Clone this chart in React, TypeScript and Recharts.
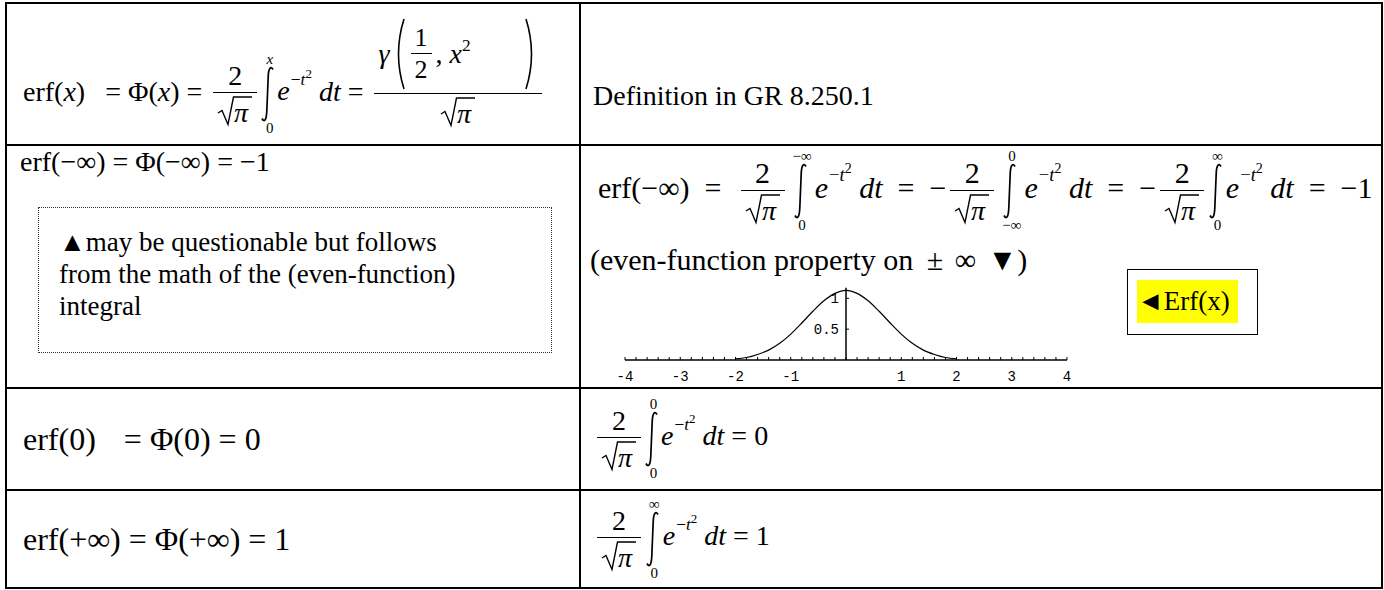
import React from "react";
import { LineChart, Line, XAxis, YAxis, ReferenceLine, ReferenceDot } from "recharts";

// values (bell curve under the erf(-inf) row)
const curveX = [-2, -1.8, -1.6, -1.4, -1.2, -1, -0.8, -0.6, -0.4, -0.2, 0, 0.2, 0.4, 0.6, 0.8, 1, 1.2, 1.4, 1.6, 1.8, 2];
const curveY = [0.02, 0.04, 0.09, 0.16, 0.27, 0.42, 0.6, 0.79, 0.96, 1.08, 1.13, 1.08, 0.96, 0.79, 0.6, 0.42, 0.27, 0.16, 0.09, 0.04, 0.02];
const xLabels = [-4, -3, -2, -1, 1, 2, 3, 4];
const yLabels = [0.5, 1];

const minorTicks = Array.from({ length: 41 }, (_, i) => Math.round((-4 + i * 0.2) * 10) / 10);

const SERIF = '"Liberation Serif", "Times New Roman", serif';
const MONO = '"Liberation Mono", "DejaVu Sans Mono", monospace';
const MATH = 28;
const TXT = 28;

const rowLines = [2, 144, 387, 489, 587];
const colLines = [5, 579, 1381];

function AxisTick(props: any) {
  const { x, y, payload } = props;
  const v = Math.round(payload.value * 10) / 10;
  const show = xLabels.includes(v);
  return (
    <g>
      <line x1={x} x2={x} y1={y - 3} y2={y} stroke="#000" strokeWidth={1} />
      {show && (
        <text x={x} y={y + 21} textAnchor="middle" fontSize={14} fontFamily={MONO} fill="#000">
          {v}
        </text>
      )}
    </g>
  );
}

function YTick(props: any) {
  const { cx, cy, text } = props;
  return (
    <g>
      <line x1={cx} x2={cx + 3} y1={cy} y2={cy} stroke="#000" />
      <text x={cx - 7} y={cy + 5} textAnchor="end" fontSize={14} fontFamily={MONO} fill="#000">
        {text}
      </text>
    </g>
  );
}

function ErfPlot() {
  const data = curveX.map((x, i) => ({ x, y: curveY[i] }));
  return (
    <LineChart width={470} height={102} data={data} margin={{ top: 4, right: 14, bottom: 0, left: 14 }}>
      <XAxis
        dataKey="x"
        type="number"
        domain={[-4, 4]}
        ticks={minorTicks}
        interval={0}
        tick={<AxisTick />}
        tickLine={false}
        tickSize={0}
        tickMargin={0}
        height={24}
        axisLine={{ stroke: "#000", strokeWidth: 1.5 }}
        allowDataOverflow
      />
      <YAxis hide type="number" domain={[0, 1.2]} />
      <ReferenceLine segment={[{ x: 0, y: 0 }, { x: 0, y: 1.17 }]} stroke="#000" strokeWidth={1.5} />
      {yLabels.map((v) => (
        <ReferenceDot key={v} x={0} y={v} r={0} shape={(p: any) => <YTick {...p} text={String(v)} />} />
      ))}
      <Line dataKey="y" type="monotone" stroke="#000" strokeWidth={1.2} dot={false} isAnimationActive={false} />
    </LineChart>
  );
}

const I = ({ children }: any) => <span style={{ fontStyle: "italic" }}>{children}</span>;
const Eq = ({ m = 7, children = "=" }: any) => <span style={{ margin: `0 ${m}px` }}>{children}</span>;

function SqrtPi() {
  return (
    <svg width={36} height={32} style={{ verticalAlign: "bottom", overflow: "visible" }}>
      <path d="M1 18 L5 15.5 L11 29.5 L16.5 2 L35 2" fill="none" stroke="#000" strokeWidth={1.4} />
      <text x={17} y={27} fontSize={28} fontStyle="italic" fontFamily={SERIF} fill="#000">
        π
      </text>
    </svg>
  );
}

function Frac({ num, den, extra = 0, fs }: any) {
  return (
    <span
      style={{
        display: "inline-flex",
        flexDirection: "column",
        alignItems: "center",
        verticalAlign: "middle",
        lineHeight: 1.05,
        margin: `0 4px ${extra}px`,
        fontSize: fs,
      }}
    >
      <span style={{ padding: "0 4px" }}>{num}</span>
      <span style={{ alignSelf: "stretch", borderTop: "1.5px solid #000", margin: "2px 0" }} />
      <span style={{ padding: "0 4px" }}>{den}</span>
    </span>
  );
}

function Int({ up, lo }: any) {
  const lim = { height: 13, opacity: 0.99, lineHeight: "13px", paddingLeft: 4 };
  return (
    <span
      style={{
        display: "inline-flex",
        flexDirection: "column",
        alignItems: "center",
        verticalAlign: "middle",
        lineHeight: 1,
        margin: "0 3px 0 0",
        fontSize: 15,
      }}
    >
      <span style={lim}>{up}</span>
      <svg width={13} height={56} viewBox="0 0 13 56">
        <path
          d="M12 3.5 Q10.5 0.5 8.8 2.5 Q7.4 4.5 7.2 11 L5.8 45 Q5.5 51.5 4.3 53.5 Q2.8 56 1 52.5"
          fill="none"
          stroke="#000"
          strokeWidth={1.7}
        />
      </svg>
      <span style={lim}>{lo}</span>
    </span>
  );
}

function Gauss() {
  return (
    <span>
      <I>e</I>
      <span style={{ fontSize: "0.62em", position: "relative", top: "-0.9em", marginLeft: 1 }}>
        −<I>t</I>
        <span style={{ fontSize: "0.75em", position: "relative", top: "-0.55em" }}>2</span>
      </span>
    </span>
  );
}

function Paren({ right }: any) {
  return (
    <svg width={15} height={74} viewBox="0 0 15 74" style={{ display: "block" }}>
      <path d={right ? "M3 2 Q14 37 3 72" : "M12 2 Q1 37 12 72"} fill="none" stroke="#000" strokeWidth={1.6} />
    </svg>
  );
}

function Gamma() {
  return (
    <span style={{ display: "inline-flex", alignItems: "center" }}>
      <I>γ</I>
      <span style={{ width: 2 }} />
      <Paren />
      <Frac num="1" den="2" fs={26} />
      <span>
        , <I>x</I>
        <span style={{ fontSize: "0.62em", position: "relative", top: "-0.7em" }}>2</span>
      </span>
      <span style={{ width: 52 }} />
      <Paren right />
    </span>
  );
}

const TwoOverRootPi = () => <Frac num="2" den={<SqrtPi />} />;

function Box({ left, top, h, fs = MATH, children }: any) {
  return (
    <div
      style={{
        position: "absolute",
        left,
        top,
        height: h,
        display: "flex",
        alignItems: "center",
        whiteSpace: "nowrap",
        fontSize: fs,
      }}
    >
      <div style={{ lineHeight: "normal" }}>{children}</div>
    </div>
  );
}

const Gap = ({ w = 30 }: any) => <span style={{ display: "inline-block", width: w }} />;

export default function App() {
  return (
    <div
      style={{
        position: "absolute",
        left: 0,
        top: 0,
        width: 1384,
        height: 590,
        background: "#fff",
        overflow: "hidden",
        fontFamily: SERIF,
        color: "#000",
      }}
    >
      {rowLines.map((y) => (
        <div key={"h" + y} style={{ position: "absolute", left: 5, top: y, width: 1378, height: 2, background: "#000" }} />
      ))}
      {colLines.map((x) => (
        <div key={"v" + x} style={{ position: "absolute", left: x, top: 2, width: 2, height: 587, background: "#000" }} />
      ))}

      {/* row 1 */}
      <Box left={23} top={24} h={140}>
        erf(<I>x</I>)<Gap w={20} />= Φ(<I>x</I>) = <TwoOverRootPi />
        <Int up={<I>x</I>} lo="0" />
        <Gauss /> <I>dt</I> = <Frac num={<Gamma />} den={<SqrtPi />} extra={44} />
      </Box>
      <Box left={593} top={24} h={144} fs={TXT}>
        Definition in GR 8.250.1
      </Box>

      {/* row 2 */}
      <div style={{ position: "absolute", left: 20, top: 146, fontSize: 28, whiteSpace: "nowrap" }}>
        erf(−∞) = Φ(−∞) = −1
      </div>
      <div
        style={{
          position: "absolute",
          left: 38,
          top: 207,
          width: 514,
          height: 146,
          boxSizing: "border-box",
          border: "1.5px dotted #333",
          padding: "18px 0 0 20px",
          fontSize: 27,
          lineHeight: "32px",
          whiteSpace: "nowrap",
        }}
      >
        ▲may be questionable but follows
        <br />
        from the math of the (even-function)
        <br />
        integral
      </div>

      <Box left={598} top={146} h={90} fs={30}>
        erf(−∞)
        <Eq m={15} />
        <TwoOverRootPi />
        <Int up="−∞" lo="0" />
        <Gauss /> <I>dt</I>
        <Eq m={15} />−<TwoOverRootPi />
        <Int up="0" lo="−∞" />
        <Gauss /> <I>dt</I>
        <Eq m={15} />−<TwoOverRootPi />
        <Int up="∞" lo="0" />
        <Gauss /> <I>dt</I>
        <Eq m={15} />
        −1
      </Box>
      <div style={{ position: "absolute", left: 590, top: 243, fontSize: 30, whiteSpace: "nowrap" }}>
        (even-function property on <Gap w={6} />± <Gap w={4} />∞ <Gap w={4} />▼)
      </div>
      <div
        style={{
          position: "absolute",
          left: 1127,
          top: 269,
          width: 131,
          height: 66,
          boxSizing: "border-box",
          border: "1.5px solid #000",
        }}
      >
        <div
          style={{
            position: "absolute",
            left: 9,
            top: 10,
            width: 101,
            height: 43,
            background: "#ffff00",
            fontSize: 27,
            lineHeight: "43px",
            whiteSpace: "nowrap",
          }}
        >
          ◄Erf(x)
        </div>
      </div>
      <div style={{ position: "absolute", left: 611, top: 282 }}>
        <ErfPlot />
      </div>

      {/* row 3 */}
      <Box left={23} top={389} h={100} fs={32}>
        erf(0)
        <Gap w={20} />
        <Eq m={8}>=</Eq>Φ(0)
        <Eq m={8} />0
      </Box>
      <Box left={593} top={389} h={100}>
        <TwoOverRootPi />
        <Int up="0" lo="0" />
        <Gauss /> <I>dt</I> = 0
      </Box>

      {/* row 4 */}
      <Box left={23} top={491} h={96} fs={32}>
        erf(+∞)
        <Eq m={8} />Φ(+∞)
        <Eq m={8} />1
      </Box>
      <Box left={593} top={491} h={96}>
        <TwoOverRootPi />
        <Int up="∞" lo="0" />
        <Gauss /> <I>dt</I> = 1
      </Box>
    </div>
  );
}
